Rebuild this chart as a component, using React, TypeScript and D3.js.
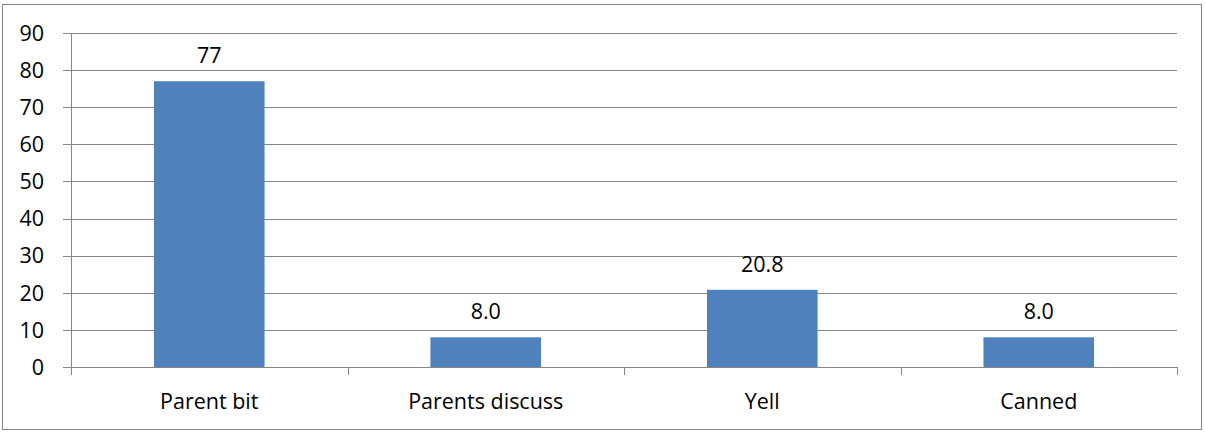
import React from "react";
import * as d3 from "d3";

const categories = ["Parent bit", "Parents discuss", "Yell", "Canned"];
const values = [77, 8.0, 20.8, 8.0];
const valueLabels = ["77", "8.0", "20.8", "8.0"];
const yTicks = [0, 10, 20, 30, 40, 50, 60, 70, 80, 90];

export default function App() {
  const W = 1205, H = 433;
  const left = 71, right = 1177, top = 33, bottom = 367;
  const x = d3.scaleBand<string>().domain(categories).range([left, right]).paddingInner(0.6).paddingOuter(0.3);
  const y = d3.scaleLinear().domain([0, 90]).range([bottom, top]);
  const step = x.step();
  const font = "'Open Sans', sans-serif";
  const grid = "#868686";
  const fs = 21.5;
  return (
    <svg width={W} height={H} style={{ position: "absolute", left: 0, top: 0 }} fontFamily={font}>
      <rect x={0} y={0} width={W} height={H} fill="#fff" />
      <rect x={2.5} y={4.5} width={1199} height={425} fill="none" stroke={grid} strokeWidth={1} />
      {yTicks.map((t) => (
        <g key={t}>
          <line x1={63} x2={right} y1={Math.round(y(t)) + 0.5} y2={Math.round(y(t)) + 0.5} stroke={grid} strokeWidth={1} />
          <text x={44} y={y(t)} dy="0.36em" textAnchor="end" fontSize={fs} fill="#000">{t}</text>
        </g>
      ))}
      <line x1={left + 0.5} x2={left + 0.5} y1={top} y2={bottom} stroke={grid} />
      {d3.range(categories.length + 1).map((i) => (
        <line key={i} x1={Math.round(left + i * step) + 0.5} x2={Math.round(left + i * step) + 0.5} y1={bottom} y2={bottom + 8} stroke={grid} />
      ))}
      {categories.map((c, i) => (
        <g key={c}>
          <rect x={x(c)!} y={y(values[i])} width={x.bandwidth()} height={bottom - y(values[i])} fill="#4F81BD" />
          <text x={x(c)! + x.bandwidth() / 2} y={y(values[i]) - 18} textAnchor="middle" fontSize={fs} fill="#000">{valueLabels[i]}</text>
          <text x={x(c)! + x.bandwidth() / 2} y={409} textAnchor="middle" fontSize={fs} fill="#000">{c}</text>
        </g>
      ))}
    </svg>
  );
}
